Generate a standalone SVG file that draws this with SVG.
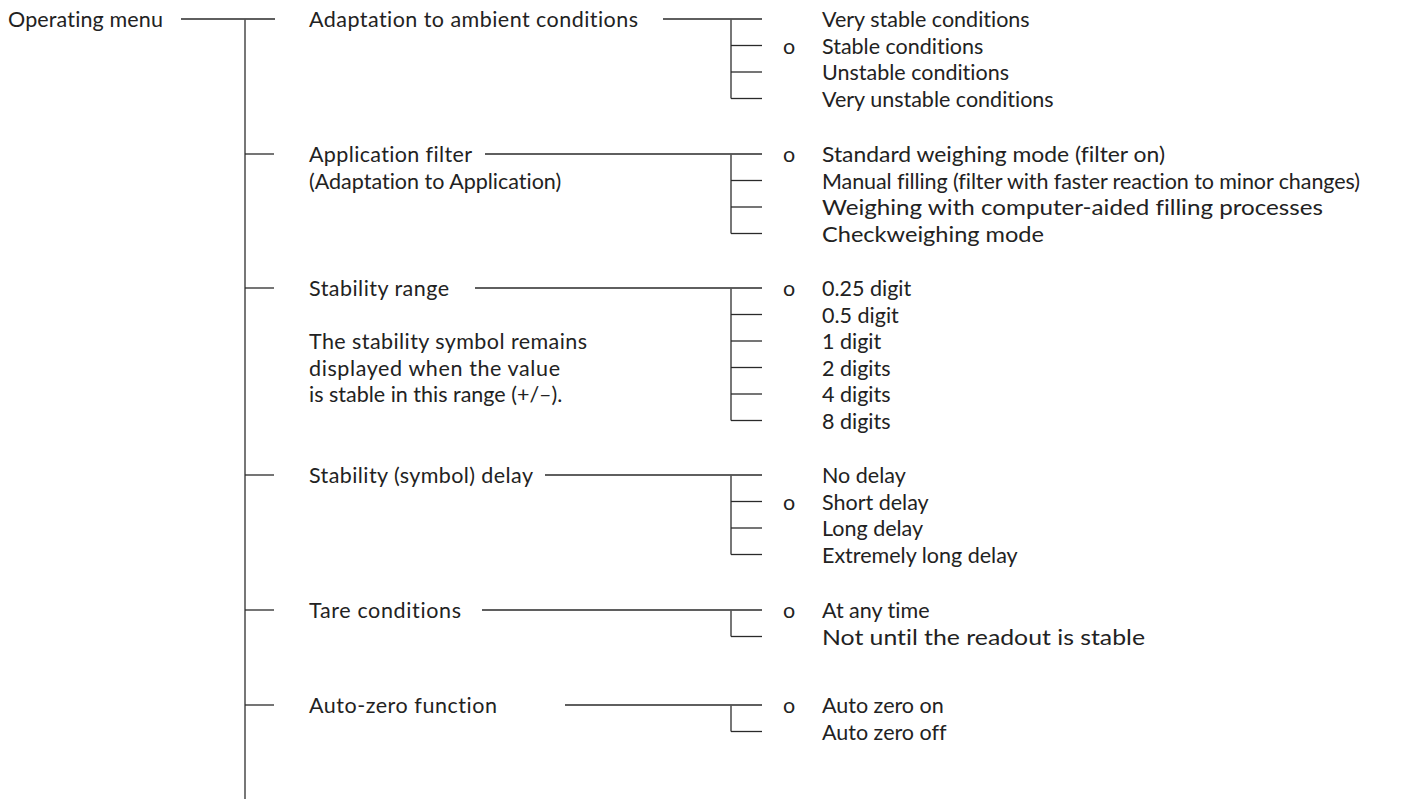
<svg xmlns="http://www.w3.org/2000/svg" width="1408" height="799" viewBox="0 0 1408 799">
<style>
text{font-family:Lato,"Liberation Sans",sans-serif;font-size:21.5px;fill:#222;font-variant-ligatures:none;font-feature-settings:"liga" 0,"dlig" 0,"clig" 0}
.c line{stroke:#2a2a2a;stroke-width:1.3}
.c .v{stroke:#555;stroke-width:1.6}
</style>
<rect width="1408" height="799" fill="#fff"/>
<g class="c" id="connectors">
<line x1="181" y1="19" x2="275" y2="19"/>
<line class="v" x1="245" y1="19" x2="245" y2="799"/>
<line x1="245" y1="154" x2="274" y2="154"/>
<line x1="245" y1="288" x2="274" y2="288"/>
<line x1="245" y1="475" x2="274" y2="475"/>
<line x1="245" y1="610" x2="274" y2="610"/>
<line x1="245" y1="705" x2="274" y2="705"/>
<line x1="663" y1="19" x2="762" y2="19"/>
<line class="v" x1="731" y1="19" x2="731" y2="98.5"/>
<line x1="731" y1="45.5" x2="762" y2="45.5"/>
<line x1="731" y1="72" x2="762" y2="72"/>
<line x1="731" y1="98.5" x2="762" y2="98.5"/>
<line x1="485" y1="154" x2="762" y2="154"/>
<line class="v" x1="731" y1="154" x2="731" y2="233.5"/>
<line x1="731" y1="180.5" x2="762" y2="180.5"/>
<line x1="731" y1="207" x2="762" y2="207"/>
<line x1="731" y1="233.5" x2="762" y2="233.5"/>
<line x1="475" y1="288" x2="762" y2="288"/>
<line class="v" x1="731" y1="288" x2="731" y2="420.5"/>
<line x1="731" y1="314.5" x2="762" y2="314.5"/>
<line x1="731" y1="341" x2="762" y2="341"/>
<line x1="731" y1="367.5" x2="762" y2="367.5"/>
<line x1="731" y1="394" x2="762" y2="394"/>
<line x1="731" y1="420.5" x2="762" y2="420.5"/>
<line x1="545" y1="475" x2="762" y2="475"/>
<line class="v" x1="731" y1="475" x2="731" y2="554.5"/>
<line x1="731" y1="501.5" x2="762" y2="501.5"/>
<line x1="731" y1="528" x2="762" y2="528"/>
<line x1="731" y1="554.5" x2="762" y2="554.5"/>
<line x1="482" y1="610" x2="762" y2="610"/>
<line class="v" x1="731" y1="610" x2="731" y2="636.5"/>
<line x1="731" y1="636.5" x2="762" y2="636.5"/>
<line x1="565" y1="705" x2="762" y2="705"/>
<line class="v" x1="731" y1="705" x2="731" y2="731.5"/>
<line x1="731" y1="731.5" x2="762" y2="731.5"/>
</g>
<g id="root"><text x="8" y="27" textLength="155">Operating menu</text></g>
<g id="adaptation">
<text x="309" y="27" textLength="329">Adaptation to ambient conditions</text>
<text x="822" y="27">Very stable conditions</text>
<text x="783" y="53.5">o</text><text x="822" y="53.5">Stable conditions</text>
<text x="822" y="80">Unstable conditions</text>
<text x="822" y="106.5">Very unstable conditions</text>
</g>
<g id="filter">
<text x="309" y="162" textLength="163">Application filter</text>
<text x="309" y="188.5">(Adaptation to Application)</text>
<text x="783" y="162">o</text><text x="822" y="162" textLength="343" lengthAdjust="spacingAndGlyphs">Standard weighing mode (filter on)</text>
<text x="822" y="188.5" textLength="538">Manual filling (filter with faster reaction to minor changes)</text>
<text x="822" y="215" textLength="501" lengthAdjust="spacingAndGlyphs">Weighing with computer-aided filling processes</text>
<text x="822" y="241.5" textLength="222" lengthAdjust="spacingAndGlyphs">Checkweighing mode</text>
</g>
<g id="range">
<text x="309" y="296" textLength="140">Stability range</text>
<text x="309" y="349" textLength="278">The stability symbol remains</text>
<text x="309" y="375.5" textLength="251">displayed when the value</text>
<text x="309" y="402">is stable in this range (+/–).</text>
<text x="783" y="296">o</text><text x="822" y="296">0.25 digit</text>
<text x="822" y="322.5">0.5 digit</text>
<text x="822" y="349">1 digit</text>
<text x="822" y="375.5">2 digits</text>
<text x="822" y="402">4 digits</text>
<text x="822" y="428.5">8 digits</text>
</g>
<g id="delay">
<text x="309" y="483" textLength="224">Stability (symbol) delay</text>
<text x="822" y="483">No delay</text>
<text x="783" y="509.5">o</text><text x="822" y="509.5">Short delay</text>
<text x="822" y="536">Long delay</text>
<text x="822" y="562.5">Extremely long delay</text>
</g>
<g id="tare">
<text x="309" y="618" textLength="152">Tare conditions</text>
<text x="783" y="618">o</text><text x="822" y="618">At any time</text>
<text x="822" y="644.5" textLength="323" lengthAdjust="spacingAndGlyphs">Not until the readout is stable</text>
</g>
<g id="autozero">
<text x="309" y="713" textLength="188">Auto-zero function</text>
<text x="783" y="713">o</text><text x="822" y="713">Auto zero on</text>
<text x="822" y="739.5">Auto zero off</text>
</g>
</svg>
